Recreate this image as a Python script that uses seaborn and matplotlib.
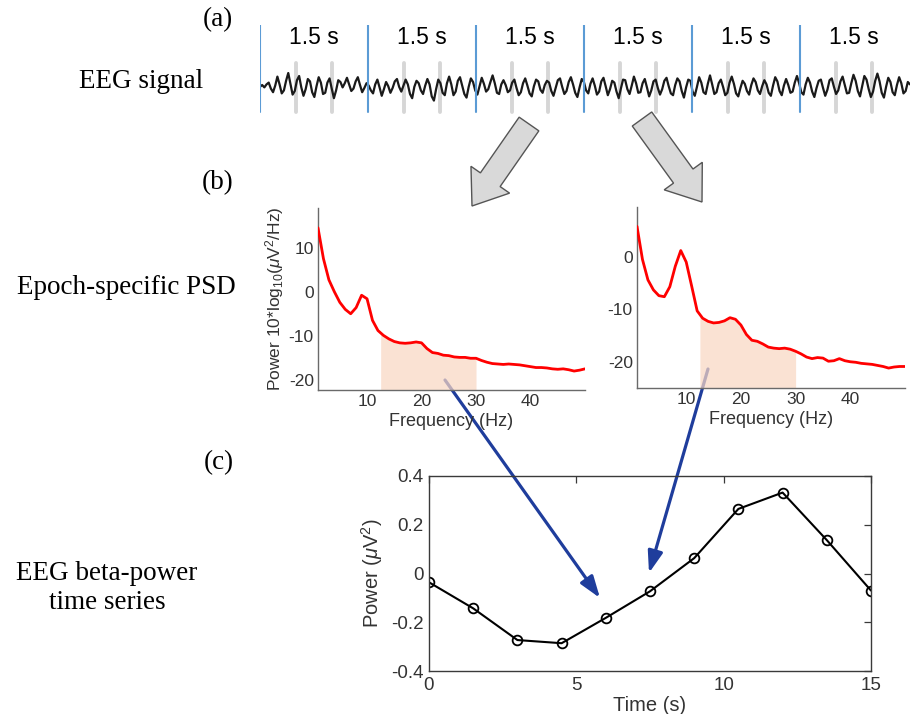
import numpy as np
import matplotlib
matplotlib.use("Agg")
import matplotlib.pyplot as plt
from matplotlib.patches import FancyArrow, FancyArrowPatch
import seaborn as sns

# ---- data ----
# (a) raw EEG trace, 9 s shown, arbitrary units
eeg = [
    0.0, 0.15, -0.05, 0.2, 0.35, -0.15, -0.45, 0.1, 0.85, 0.2, -0.55, -0.3, 0.5, 1.15, 0.25, -0.65, -0.35, 0.55, 0.9, -0.05,
    -0.75, -0.2, 0.65, 0.45, -0.45, -0.85, 0.05, 0.8, 0.35, -0.6, -0.5, 0.35, 0.7, -0.15, -0.95, -0.3, 0.55, 0.4, -0.05, 0.3,
    0.75, 0.2, -0.35, -0.15, 0.45, 0.8, 0.15, -0.45, -0.1, 0.3, 0.1, -0.3, -0.55, 0.2, 0.6, -0.05, -0.75, -0.2, 0.4, 0.05,
    -0.5, -0.1, 0.45, 0.65, 0.0, -0.4, 0.1, 0.6, 0.2, -0.6, -0.95, 0.0, 0.5, 0.3, -0.3, -0.6, 0.1, 0.65, 0.2, -0.8,
    -1.15, -0.2, 0.6, 0.3, -0.5, -0.7, 0.3, 0.85, 0.2, -0.7, -0.4, 0.5, 0.8, 0.1, -0.6, -0.9, 0.0, 0.7, 0.4, -0.3,
    -0.65, 0.05, 0.75, 0.25, -0.4, -0.2, 0.4, 0.95, 0.3, -0.5, -0.6, 0.2, 0.55, 0.15, -0.45, -0.3, 0.35, 0.6, -0.1, -0.7,
    -0.45, 0.3, 0.7, 0.1, -0.55, -0.8, 0.05, 0.6, 0.45, -0.25, -0.5, 0.15, 0.5, 0.35, -0.35, -0.75, -0.1, 0.55, 0.7, 0.0,
    -0.6, -0.35, 0.4, 0.8, 0.2, -0.5, -0.85, -0.05, 0.65, 0.4, -0.3, -0.55, 0.25, 0.7, 0.1, -0.65, -0.4, 0.45, 0.75, 0.05,
    -0.7, -0.2, 0.5, 0.35, -0.4, -0.95, -0.15, 0.6, 0.55, -0.2, -0.6, 0.1, 0.85, 0.3, -0.5, -0.45, 0.3, 0.65, -0.05, -0.8,
    -0.3, 0.45, 0.6, -0.1, -0.65, -0.2, 0.5, 0.75, 0.05, -0.55, -0.7, 0.15, 0.7, 0.45, -0.35, -0.9, -0.05, 0.6, 0.5, -0.4,
    -0.75, 0.0, 0.8, 0.35, -0.45, -0.6, 0.25, 0.95, 0.2, -0.6, -0.45, 0.3, 0.6, 0.0, -0.7, -0.5, 0.35, 0.85, 0.25, -0.55,
    -0.8, -0.1, 0.5, 0.25, -0.35, -0.65, 0.15, 0.7, 0.4, -0.3, -0.6, 0.05, 0.55, 0.2, -0.5, -0.75, 0.1, 0.8, 0.45, -0.35,
    -0.7, 0.1, 0.65, 0.15, -0.5, -0.4, 0.35, 0.9, 0.3, -0.45, -0.65, 0.2, 0.75, 0.35, -0.4, -0.85, -0.1, 0.5, 0.6, -0.1,
    -0.75, -0.25, 0.55, 0.7, 0.0, -0.6, -0.3, 0.45, 0.85, 0.15, -0.55, -0.5, 0.3, 1.0, 0.5, -0.35, -0.8, 0.05, 0.9, 0.6,
    -0.2, -0.85, -0.4, 0.5, 1.1, 0.45, -0.5, -0.9, 0.0, 0.75, 0.4, -0.45, -0.7, 0.15, 0.8, 0.3, -0.55, -0.35, 0.4, 0.2,
]
eeg_duration = 9.03
epoch_starts = [0, 1.5, 3.0, 4.5, 6.0, 7.5]
epoch_label = "1.5 s"
marker_times = [0.5, 1.0, 2.0, 2.5, 3.5, 4.0, 5.0, 5.5, 6.5, 7.0, 8.0, 8.5]

# (b) two epoch PSDs, 1..50 Hz
freqs = list(range(1, 51))
psd_left = [14.5, 7.5, 2.7, 0.0, -2.4, -4.0, -5.0, -3.6, -0.8, -1.6,
            -6.5, -8.8, -9.9, -10.7, -11.3, -11.6, -11.7, -11.6, -11.4, -11.6,
            -12.9, -13.8, -14.0, -14.4, -14.5, -14.8, -14.9, -14.9, -15.1, -15.1,
            -15.6, -16.0, -16.3, -16.4, -16.5, -16.4, -16.5, -16.6, -16.8, -17.0,
            -17.2, -17.2, -17.3, -17.5, -17.6, -17.5, -17.7, -18.0, -17.8, -17.5]
psd_right = [5.8, -0.5, -4.4, -6.3, -7.4, -7.6, -5.7, -1.8, 1.2, -1.0,
             -5.6, -10.3, -11.7, -12.3, -12.6, -12.5, -12.2, -11.6, -11.9, -13.0,
             -14.8, -15.9, -16.1, -16.6, -17.2, -17.4, -17.5, -17.4, -17.6, -18.0,
             -18.5, -19.1, -19.4, -19.2, -19.3, -19.9, -19.8, -19.4, -19.8, -20.0,
             -20.1, -20.3, -20.4, -20.5, -20.7, -20.9, -21.2, -21.0, -20.9, -20.9]
beta_band = (12.5, 30)

# (c) beta-power time series
epoch_time = [0, 1.5, 3, 4.5, 6, 7.5, 9, 10.5, 12, 13.5, 15]
beta_power = [-0.036, -0.143, -0.273, -0.286, -0.182, -0.073, 0.063, 0.265, 0.332, 0.137, -0.07]

# ---- style ----
sns.set_theme(style="white")
plt.rcParams["font.family"] = ["Liberation Sans", "DejaVu Sans"]
plt.rcParams["mathtext.fontset"] = "custom"
plt.rcParams["mathtext.rm"] = "Liberation Sans"
plt.rcParams["mathtext.it"] = "Liberation Sans:italic"
plt.rcParams["axes.unicode_minus"] = False

W, H = 910, 714
fig = plt.figure(figsize=(W / 100, H / 100), dpi=100)


def px_box(x0, y0, x1, y1):
    # pixel box (top-left origin) -> figure fraction rect
    return [x0 / W, 1 - y1 / H, (x1 - x0) / W, (y1 - y0) / H]


# underlay in pixel units for labels and arrows
bg = fig.add_axes([0, 0, 1, 1], zorder=0)
bg.set_xlim(0, W)
bg.set_ylim(H, 0)
bg.axis("off")

serif = dict(family=["Liberation Serif", "DejaVu Serif"], fontsize=19.5, color="black")
bg.text(218, 20, "(a)", ha="center", va="center", **serif)
bg.text(141, 82, "EEG signal", ha="center", va="center", **serif)
bg.text(218, 183, "(b)", ha="center", va="center", **serif)
bg.text(126, 288, "Epoch-specific PSD", ha="center", va="center", **serif)
bg.text(219, 463, "(c)", ha="center", va="center", **serif)
bg.text(107, 588, "EEG beta-power\ntime series", ha="center", va="center",
        linespacing=1.25, **serif)

# grey block arrows (a) -> (b)
for (x0, y0, x1, y1) in [(529, 124, 472, 206), (642, 119, 702, 202)]:
    bg.add_patch(FancyArrow(x0, y0, x1 - x0, y1 - y0, width=24, head_width=47,
                            head_length=32, length_includes_head=True,
                            facecolor="#d9d9d9", edgecolor="#555555", lw=1.0))

# blue arrows (b) -> (c)
for (x0, y0, x1, y1) in [(445, 380, 600, 598), (708, 369, 649, 573)]:
    bg.add_patch(FancyArrowPatch((x0, y0), (x1, y1),
                                 arrowstyle="-|>,head_length=1.3,head_width=0.45",
                                 mutation_scale=10, lw=2.3, color="#1f3d9c",
                                 shrinkA=0, shrinkB=0))

# ---- (a) EEG trace ----
ax_a = fig.add_axes(px_box(260, 25, 910, 115), zorder=1, facecolor="none")
t = np.linspace(0, eeg_duration, len(eeg))
for mt in marker_times:
    ax_a.plot([mt, mt], [-2.1, 2.0], color="#d6d6d6", lw=2.8, zorder=1)
for st in epoch_starts:
    ax_a.plot([st, st], [-2.1, 5.2], color="#5b9bd5", lw=1.5, zorder=3)
    ax_a.text(st + 0.75, 4.1, epoch_label, ha="center", va="center",
              fontsize=16.5, color="black")
sns.lineplot(x=t, y=eeg, ax=ax_a, color="#1a1a1a", lw=1.6, zorder=2,
             solid_joinstyle="round")
ax_a.set_xlim(0, eeg_duration)
ax_a.set_ylim(-2.35, 5.15)
ax_a.axis("off")

# ---- (b) PSDs ----
fill_color = "#f9d7c3"


def draw_psd(box, values, ylim, yticks, ylabel):
    ax = fig.add_axes(px_box(*box), zorder=1, facecolor="none")
    sns.lineplot(x=freqs, y=values, ax=ax, color="#ff0000", lw=2.0, zorder=3)
    band_f = [beta_band[0]] + [f for f in freqs if beta_band[0] < f < beta_band[1]] + [beta_band[1]]
    band_v = np.interp(band_f, freqs, values)
    ax.fill_between(band_f, ylim[0], band_v, color=fill_color, alpha=0.72, lw=0, zorder=2)
    ax.set_xlim(1, 50)
    ax.set_ylim(*ylim)
    ax.set_xticks([10, 20, 30, 40])
    ax.set_yticks(yticks)
    for s in ["top", "right"]:
        ax.spines[s].set_visible(False)
    for s in ["left", "bottom"]:
        ax.spines[s].set_color("#6a6a6a")
        ax.spines[s].set_linewidth(1.0)
    ax.tick_params(direction="in", length=4, width=0.9, colors="#6a6a6a",
                   labelcolor="#333333", labelsize=12.5, pad=3)
    ax.set_xlabel("Frequency (Hz)", fontsize=13, color="#333333", labelpad=3)
    if ylabel:
        ax.set_ylabel(ylabel, fontsize=12.5, color="#333333", labelpad=2)
    return ax


draw_psd((318, 208, 585, 390), psd_left, (-22.3, 19), [-20, -10, 0, 10],
         r"Power 10*log$_{10}$($\mu$V$^2$/Hz)")
draw_psd((637, 207, 905, 388), psd_right, (-25, 9.5), [-20, -10, 0], None)

# ---- (c) beta-power time series ----
ax_c = fig.add_axes(px_box(429, 476, 871, 671), zorder=1, facecolor="none")
sns.lineplot(x=epoch_time, y=beta_power, ax=ax_c, color="black", lw=1.5,
             marker="o", markersize=7, markerfacecolor="none",
             markeredgecolor="black", markeredgewidth=1.3)
ax_c.set_xlim(0, 15)
ax_c.set_ylim(-0.4, 0.4)
ax_c.set_xticks([0, 5, 10, 15])
ax_c.set_yticks([-0.4, -0.2, 0, 0.2, 0.4])
ax_c.set_yticklabels(["-0.4", "-0.2", "0", "0.2", "0.4"])
for s in ax_c.spines.values():
    s.set_color("#3a3a3a")
    s.set_linewidth(1.0)
ax_c.tick_params(direction="in", length=5, width=0.9, colors="#3a3a3a",
                 labelcolor="#333333", labelsize=13.5, pad=4,
                 top=True, right=True)
ax_c.set_xlabel("Time (s)", fontsize=14.5, color="#333333", labelpad=2)
ax_c.set_ylabel(r"Power ($\mu$V$^2$)", fontsize=14.5, color="#333333", labelpad=4)

fig.savefig("out.png", dpi=100)
